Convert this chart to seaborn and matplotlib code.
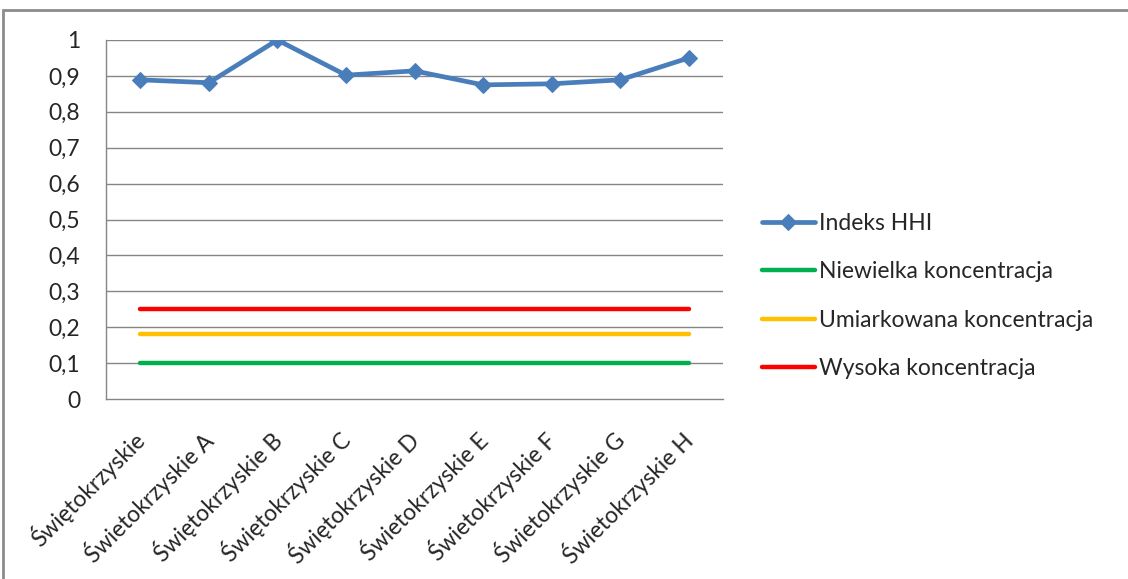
import numpy as np
import pandas as pd
import matplotlib
matplotlib.use("Agg")
import matplotlib.pyplot as plt
import matplotlib.transforms as mtransforms
import seaborn as sns
from matplotlib.patches import Rectangle

regions = ["Świętokrzyskie", "Świetokrzyskie A", "Świętokrzyskie B", "Świętokrzyskie C",
           "Świętokrzyskie D", "Świetokrzyskie E", "Świetokrzyskie F", "Świetokrzyskie G",
           "Świetokrzyskie H"]
hhi = [0.889, 0.881, 1.0, 0.902, 0.914, 0.875, 0.878, 0.889, 0.950]
niewielka = [0.10] * 9
umiarkowana = [0.18] * 9
wysoka = [0.25] * 9
y_ticks = [0, 0.1, 0.2, 0.3, 0.4, 0.5, 0.6, 0.7, 0.8, 0.9, 1.0]
y_labels = ["0", "0,1", "0,2", "0,3", "0,4", "0,5", "0,6", "0,7", "0,8", "0,9", "1"]

df = pd.DataFrame({"x": np.arange(len(regions)), "region": regions, "hhi": hhi,
                   "niewielka": niewielka, "umiarkowana": umiarkowana, "wysoka": wysoka})

sns.set_style("white")
plt.rcParams["font.family"] = ["Lato", "DejaVu Sans"]
fs = 16.5

fig = plt.figure(figsize=(11.28, 5.79), dpi=100)
ax = fig.add_axes([106 / 1128, 1 - 399 / 579, 617 / 1128, 359 / 579])

# outer chart frame
fig.patches.append(Rectangle((3 / 1128, -0.05), 1.1, 1 - 10 / 579 + 0.05, transform=fig.transFigure,
                             fill=False, edgecolor="#8c8c8c", linewidth=2))

grey = "#868686"
for v in y_ticks[1:]:
    ax.axhline(v, color=grey, linewidth=1, zorder=0)

sns.lineplot(data=df, x="x", y="hhi", ax=ax, color="#4a7ebb", linewidth=3.4, marker="D",
             markersize=8, markeredgecolor="#4a7ebb", label="Indeks HHI", zorder=5)
sns.lineplot(data=df, x="x", y="niewielka", ax=ax, color="#00b050", linewidth=3.2,
             label="Niewielka koncentracja", zorder=4)
sns.lineplot(data=df, x="x", y="umiarkowana", ax=ax, color="#ffc000", linewidth=3.2,
             label="Umiarkowana koncentracja", zorder=4)
sns.lineplot(data=df, x="x", y="wysoka", ax=ax, color="#ff0000", linewidth=3.2,
             label="Wysoka koncentracja", zorder=4)

ax.set_xlim(-0.5, len(regions) - 0.5)
ax.set_ylim(0, 1)
ax.set_yticks(y_ticks)
ax.set_yticklabels(y_labels, fontsize=fs)
ax.set_xticks(df["x"])
ax.set_xticklabels(regions, rotation=45, ha="right", rotation_mode="anchor", fontsize=fs)
ax.set_xticks(np.arange(-0.5, len(regions)), minor=True)
ax.tick_params(axis="x", which="major", length=0, pad=20)
ax.tick_params(axis="x", which="minor", length=6, color=grey, width=1, direction="out")
ax.tick_params(axis="y", length=6.5, color=grey, width=1, direction="out", pad=12)
ax.set_xlabel("")
ax.set_ylabel("")
for s in ["top", "right"]:
    ax.spines[s].set_visible(False)
for s in ["left", "bottom"]:
    ax.spines[s].set_color(grey)
    ax.spines[s].set_linewidth(1)

# nudge rotated labels a little to the left, like the original
shift = mtransforms.ScaledTranslation(-9 / 100, 0, fig.dpi_scale_trans)
for lbl in ax.get_xticklabels():
    lbl.set_transform(lbl.get_transform() + shift)

handles, labels = ax.get_legend_handles_labels()
ax.get_legend().remove()
fig.legend(handles, labels, loc="center left", bbox_to_anchor=(762 / 1128, 1 - 296 / 579),
           frameon=False, fontsize=fs, labelspacing=1.2, handlelength=2.3,
           handletextpad=0.2, borderpad=0, borderaxespad=0)

fig.savefig("out.png", dpi=100)
